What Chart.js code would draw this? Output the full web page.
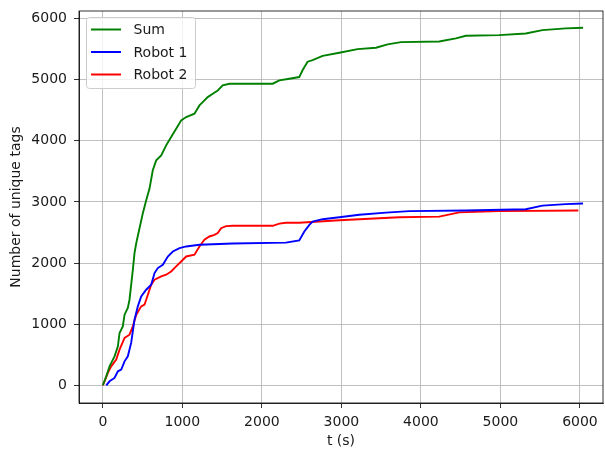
<!DOCTYPE html>
<html>
<head>
<meta charset="utf-8">
<script src="https://cdn.jsdelivr.net/npm/chart.js@4/dist/chart.umd.min.js"></script>
<style>
  html, body { margin: 0; padding: 0; background: #fff; }
  #wrap { width: 605px; height: 451px; }
</style>
</head>
<body>
<div id="wrap"><canvas id="tagsChart"></canvas></div>
<script>
// Unique tags seen over time
const sumT = [0, 43, 84, 147, 189, 210, 251, 273, 314, 335, 377, 398, 420, 461, 503, 545, 587, 628, 671, 734, 796, 859, 922, 985, 1048, 1152, 1215, 1256, 1319, 1382, 1445, 1507, 1592, 1717, 2136, 2220, 2345, 2470, 2513, 2575, 2638, 2764, 2974, 3204, 3435, 3581, 3749, 4230, 4440, 4565, 4984, 5319, 5528, 5822, 6039];
const sumN = [0, 147, 310, 474, 637, 856, 964, 1155, 1264, 1400, 1890, 2163, 2327, 2570, 2817, 3028, 3219, 3518, 3681, 3763, 3926, 4062, 4199, 4335, 4390, 4444, 4580, 4634, 4716, 4771, 4825, 4907, 4935, 4935, 4935, 4989, 5017, 5044, 5159, 5295, 5322, 5392, 5441, 5501, 5523, 5578, 5616, 5627, 5676, 5719, 5730, 5757, 5812, 5840, 5850];

const robot1T = [43, 84, 147, 189, 231, 273, 314, 356, 398, 440, 482, 545, 608, 650, 691, 754, 817, 880, 964, 1048, 1215, 1633, 2302, 2470, 2534, 2597, 2638, 2764, 2974, 3225, 3560, 3853, 4565, 5319, 5528, 5822, 6039];
const robot1N = [0, 65, 120, 229, 256, 392, 474, 693, 1073, 1291, 1454, 1564, 1645, 1837, 1918, 1972, 2108, 2190, 2245, 2272, 2300, 2320, 2335, 2370, 2517, 2626, 2680, 2718, 2750, 2790, 2825, 2850, 2860, 2880, 2940, 2965, 2975];

const robot2T = [0, 21, 63, 105, 168, 210, 273, 335, 377, 420, 482, 524, 566, 608, 650, 734, 796, 859, 922, 985, 1048, 1152, 1215, 1277, 1340, 1403, 1445, 1487, 1550, 1633, 2136, 2220, 2302, 2470, 2974, 3728, 4230, 4482, 4984, 5980];
const robot2N = [0, 65, 202, 310, 420, 583, 774, 828, 964, 1155, 1291, 1319, 1482, 1645, 1727, 1781, 1809, 1863, 1945, 2026, 2108, 2136, 2271, 2381, 2435, 2462, 2490, 2571, 2605, 2610, 2610, 2645, 2660, 2660, 2700, 2750, 2760, 2830, 2850, 2860];

const xTicks = [0, 1000, 2000, 3000, 4000, 5000, 6000];
const yTicks = [0, 1000, 2000, 3000, 4000, 5000, 6000];

const FONT = '"DejaVu Sans", sans-serif';
const TEXT = '#1a1a1a';

function toPoints(ts, ns) {
    return ts.map((t, i) => ({ x: t, y: ns[i] }));
}

function series(label, ts, ns, color) {
    return {
        label: label,
        data: toPoints(ts, ns),
        borderColor: color,
        backgroundColor: color,
        borderWidth: 1.9,
        pointRadius: 0,
        tension: 0,
        fill: false
    };
}

// top and right spines
const frame = {
    id: 'frame',
    afterDatasetsDraw(chart) {
        const { ctx, chartArea: a } = chart;
        ctx.save();
        ctx.strokeStyle = '#000';
        ctx.lineWidth = 0.8;
        ctx.strokeRect(a.left, a.top, a.right - a.left, a.bottom - a.top);
        ctx.restore();
    }
};

// legend in the upper left corner of the axes
const insetLegend = {
    id: 'insetLegend',
    afterDraw(chart) {
        const { ctx, chartArea: a } = chart;
        const x = a.left + 7.5, y = a.top + 6.5, w = 109, h = 71, r = 3;
        ctx.save();
        ctx.beginPath();
        ctx.roundRect(x, y, w, h, r);
        ctx.fillStyle = 'rgba(255,255,255,0.8)';
        ctx.fill();
        ctx.strokeStyle = '#cccccc';
        ctx.lineWidth = 1;
        ctx.stroke();
        ctx.font = '14px ' + FONT;
        ctx.textBaseline = 'middle';
        chart.data.datasets.forEach((ds, i) => {
            const cy = y + 12 + i * 22.5;
            ctx.strokeStyle = ds.borderColor;
            ctx.lineWidth = 2;
            ctx.beginPath();
            ctx.moveTo(x + 4.5, cy);
            ctx.lineTo(x + 34.5, cy);
            ctx.stroke();
            ctx.fillStyle = TEXT;
            ctx.fillText(ds.label, x + 47, cy + 1);
        });
        ctx.restore();
    }
};

function keepTicks(list) {
    return function(scale) {
        scale.ticks = list.map(v => ({ value: v }));
    };
}

const tickFont = { family: FONT, size: 14 };

new Chart(document.getElementById('tagsChart'), {
    type: 'line',
    data: {
        datasets: [
            series('Sum', sumT, sumN, '#008000'),
            series('Robot 1', robot1T, robot1N, '#0000ff'),
            series('Robot 2', robot2T, robot2N, '#ff0000')
        ]
    },
    options: {
        responsive: true,
        maintainAspectRatio: false,
        animation: false,
        layout: { padding: { top: 11, right: 2, left: 0, bottom: 0 } },
        plugins: {
            legend: { display: false },
            tooltip: { enabled: false }
        },
        scales: {
            x: {
                type: 'linear',
                min: -300,
                max: 6290,
                afterBuildTicks: keepTicks(xTicks),
                afterFit(scale) {
                    scale.height = 48;
                    scale.paddingLeft = 0;
                    scale.paddingRight = 0;
                },
                grid: { color: '#b0b0b0', lineWidth: 0.8, tickColor: '#000', tickLength: 5 },
                border: { color: '#000', width: 0.8 },
                ticks: { color: TEXT, font: tickFont, padding: 6, maxRotation: 0, callback: v => String(v) },
                title: { display: true, text: 't (s)', color: TEXT, font: tickFont, padding: { top: 0, bottom: 1 } }
            },
            y: {
                min: -290,
                max: 6125,
                afterBuildTicks: keepTicks(yTicks),
                afterFit(scale) {
                    scale.width = 79;
                    scale.paddingTop = 0;
                    scale.paddingBottom = 0;
                },
                grid: { color: '#b0b0b0', lineWidth: 0.8, tickColor: '#000', tickLength: 5 },
                border: { color: '#000', width: 0.8 },
                ticks: { color: TEXT, font: tickFont, padding: 7, callback: v => String(v) },
                title: { display: true, text: 'Number of unique tags', color: TEXT, font: tickFont, padding: { top: 7.5, bottom: 0 } }
            }
        }
    },
    plugins: [frame, insetLegend]
});
</script>
</body>
</html>
